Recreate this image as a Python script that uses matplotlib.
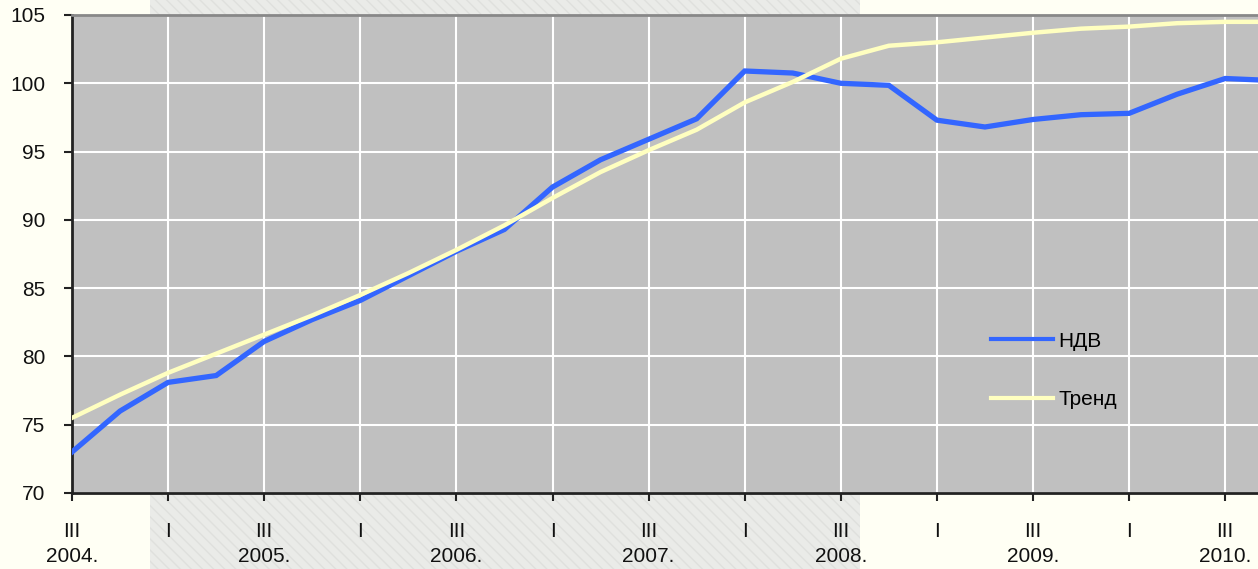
import matplotlib
matplotlib.use('Agg')
import matplotlib.pyplot as plt
from matplotlib.patches import Rectangle

plt.rcParams['font.family'] = ['Liberation Sans', 'DejaVu Sans']

# Quarterly series, starting with Q3 2004
ndv = [73.0, 76.0, 78.1, 78.6, 81.1, 82.7, 84.1, 85.9, 87.7, 89.3,
       92.4, 94.4, 95.9, 97.4, 100.9, 100.75, 100.0, 99.85, 97.3, 96.8,
       97.35, 97.7, 97.8, 99.2, 100.35, 100.2]
trend = [75.5, 77.2, 78.8, 80.2, 81.6, 83.0, 84.5, 86.1, 87.8, 89.6,
         91.6, 93.5, 95.1, 96.6, 98.6, 100.1, 101.8, 102.75, 103.0, 103.35,
         103.7, 104.0, 104.15, 104.4, 104.5, 104.5]
tick_labels = ['III\n2004.', 'I', 'III\n2005.', 'I', 'III\n2006.', 'I',
               'III\n2007.', 'I', 'III\n2008.', 'I', 'III\n2009.', 'I',
               'III\n2010.']

quarters = list(range(len(ndv)))

fig = plt.figure(figsize=(12.58, 5.69), dpi=100, facecolor='#fffff4')

# light textured band behind the chart
band = Rectangle((150 / 1258, 0), 710 / 1258, 1, transform=fig.transFigure,
                 facecolor='#eaebe8', edgecolor='#dfe0dd', hatch='\\\\\\',
                 linewidth=0, zorder=0)
fig.patches.append(band)

ax = fig.add_axes([72 / 1258, 76 / 569, 1 - 72 / 1258, 478 / 569])
ax.set_zorder(2)
ax.set_facecolor('#c0c0c0')

ax.plot(quarters, ndv, color='#3366ff', linewidth=3.8, label='НДВ',
        solid_joinstyle='miter', zorder=3)
ax.plot(quarters, trend, color='#ffffc0', linewidth=3.2, label='Тренд',
        solid_joinstyle='miter', zorder=4)

ax.set_xlim(0, (1258 - 72) / 48.05)
ax.set_ylim(70, 105)
ax.set_yticks(range(70, 106, 5))
ax.set_xticks(range(0, 25, 2))
ax.set_xticklabels(tick_labels, va='top', linespacing=1.4)

ax.grid(True, color='white', linewidth=1.5)
ax.set_axisbelow(True)

ax.spines['right'].set_visible(False)
ax.spines['top'].set_color('#888888')
ax.spines['top'].set_linewidth(2)
ax.spines['left'].set_color('#222222')
ax.spines['bottom'].set_color('#222222')
ax.spines['left'].set_linewidth(2)
ax.spines['bottom'].set_linewidth(2)

ax.tick_params(axis='both', direction='out', length=6, width=1.5,
               color='#222222', labelsize=15, labelcolor='#111111')
ax.tick_params(axis='x', pad=15)
ax.tick_params(axis='y', pad=13)

leg = ax.legend(loc='upper left', bbox_to_anchor=(0.759, 0.377),
                frameon=False, fontsize=15, handlelength=3.0,
                handletextpad=0.25, labelspacing=1.9)
for line in leg.get_lines():
    line.set_linewidth(3)

fig.savefig('out.png', dpi=100, facecolor=fig.get_facecolor())
